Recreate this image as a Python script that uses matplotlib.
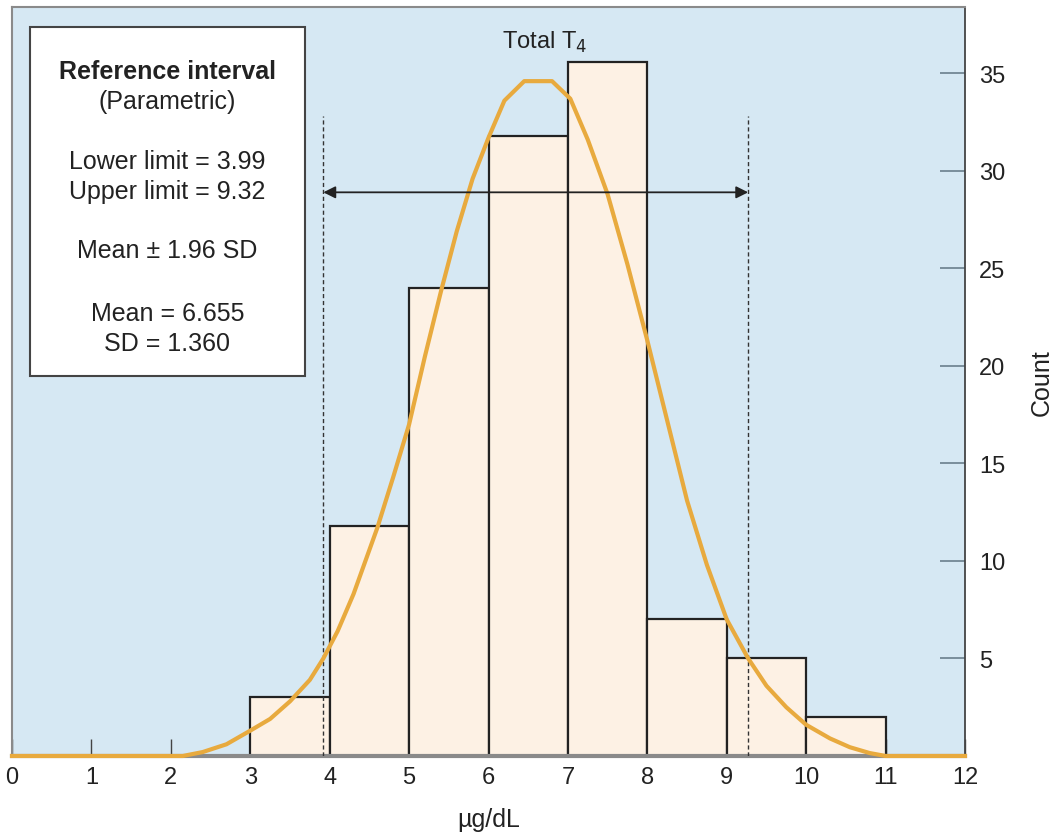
import matplotlib.pyplot as plt
import matplotlib.patches as patches

plt.rcParams['font.family'] = ['Liberation Sans', 'DejaVu Sans']

# histogram bins (left edges) and counts
bin_left = [3, 4, 5, 6, 7, 8, 9, 10]
counts = [3, 11.8, 24, 31.8, 35.6, 7, 5, 2]

# fitted curve
curve_x = [0, 2.15, 2.4, 2.7, 3.0, 3.25, 3.5, 3.75, 3.92, 4.1, 4.3, 4.6, 4.8, 5.0,
           5.2, 5.4, 5.6, 5.8, 6.0, 6.2, 6.45, 6.8, 7.03, 7.25, 7.5, 7.75, 8.0,
           8.25, 8.5, 8.75, 9.0, 9.27, 9.5, 9.75, 10.0, 10.3, 10.55, 10.8, 11.0, 12]
curve_y = [0, 0, 0.2, 0.6, 1.3, 1.9, 2.8, 3.9, 5.0, 6.4, 8.3, 11.7, 14.3, 17.0,
           20.5, 23.8, 26.9, 29.6, 31.7, 33.6, 34.6, 34.6, 33.7, 31.6, 28.8, 25.2,
           21.3, 17.2, 13.1, 9.8, 7.0, 5.0, 3.6, 2.5, 1.6, 0.9, 0.45, 0.15, 0, 0]

# drawn reference limits
limits = [3.92, 9.27]
arrow_y = 28.9
limit_top = 32.8

x_ticks = list(range(0, 13))
y_ticks = [5, 10, 15, 20, 25, 30, 35]

box_lines = [
    ('Reference interval', 'bold', 0.915),
    ('(Parametric)', 'normal', 0.875),
    ('Lower limit = 3.99', 'normal', 0.795),
    ('Upper limit = 9.32', 'normal', 0.755),
    ('Mean \u00b1 1.96 SD', 'normal', 0.675),
    ('Mean = 6.655', 'normal', 0.592),
    ('SD = 1.360', 'normal', 0.552),
]

fig = plt.figure(figsize=(10.56, 8.37), dpi=100)
ax = fig.add_axes([0.0114, 0.0956, 0.9024, 0.8948])
ax.set_facecolor('#d6e8f3')

ax.bar(bin_left, counts, width=1, align='edge', facecolor='#fdf1e4',
       edgecolor='#222222', linewidth=1.6, zorder=2)

ax.plot(curve_x, curve_y, color='#e8aa3e', linewidth=3, zorder=4,
        solid_joinstyle='round', clip_on=False)

for lx in limits:
    ax.plot([lx, lx], [0, limit_top], color='#333333', linestyle=(0, (3, 2)),
            linewidth=1, zorder=3)

ax.annotate('', xy=(limits[1], arrow_y), xytext=(limits[0], arrow_y),
            arrowprops=dict(arrowstyle='<|-|>', color='#222222', lw=1.3,
                            mutation_scale=18, shrinkA=0, shrinkB=0), zorder=5)

ax.set_xlim(0, 12)
ax.set_ylim(0, 38.4)

ax.set_xticks(x_ticks)
ax.tick_params(axis='x', direction='in', length=12, width=1, color='#444444',
               labelsize=17, pad=7)
ax.yaxis.tick_right()
ax.yaxis.set_label_position('right')
ax.set_yticks(y_ticks)
ax.tick_params(axis='y', direction='in', length=18, width=1.2, color='#6b7f8c',
               labelsize=17, pad=10, right=True, left=False)
for lab in ax.get_xticklabels() + ax.get_yticklabels():
    lab.set_color('#222222')

ax.set_xlabel('\u00b5g/dL', fontsize=18, labelpad=14, color='#222222')
ax.set_ylabel('Count', fontsize=18, labelpad=18, color='#222222')

for side in ['left', 'top']:
    ax.spines[side].set_color('#8a8a8a')
    ax.spines[side].set_linewidth(1.5)
ax.spines['right'].set_color('#444444')
ax.spines['right'].set_linewidth(1.3)
ax.spines['bottom'].set_color('#8a8a8a')
ax.spines['bottom'].set_linewidth(3)

ax.text(0.559, 0.954, 'Total T$_4$', transform=ax.transAxes, ha='center',
        va='center', fontsize=17, color='#222222')

box = patches.Rectangle((0.019, 0.508), 0.288, 0.465, transform=ax.transAxes,
                        facecolor='white', edgecolor='#444444', linewidth=1.5,
                        zorder=6)
ax.add_patch(box)
for txt, weight, yy in box_lines:
    ax.text(0.163, yy, txt, transform=ax.transAxes, ha='center', va='center',
            fontsize=18, fontweight=weight, color='#222222', zorder=7)

fig.savefig('out.png', dpi=100)
